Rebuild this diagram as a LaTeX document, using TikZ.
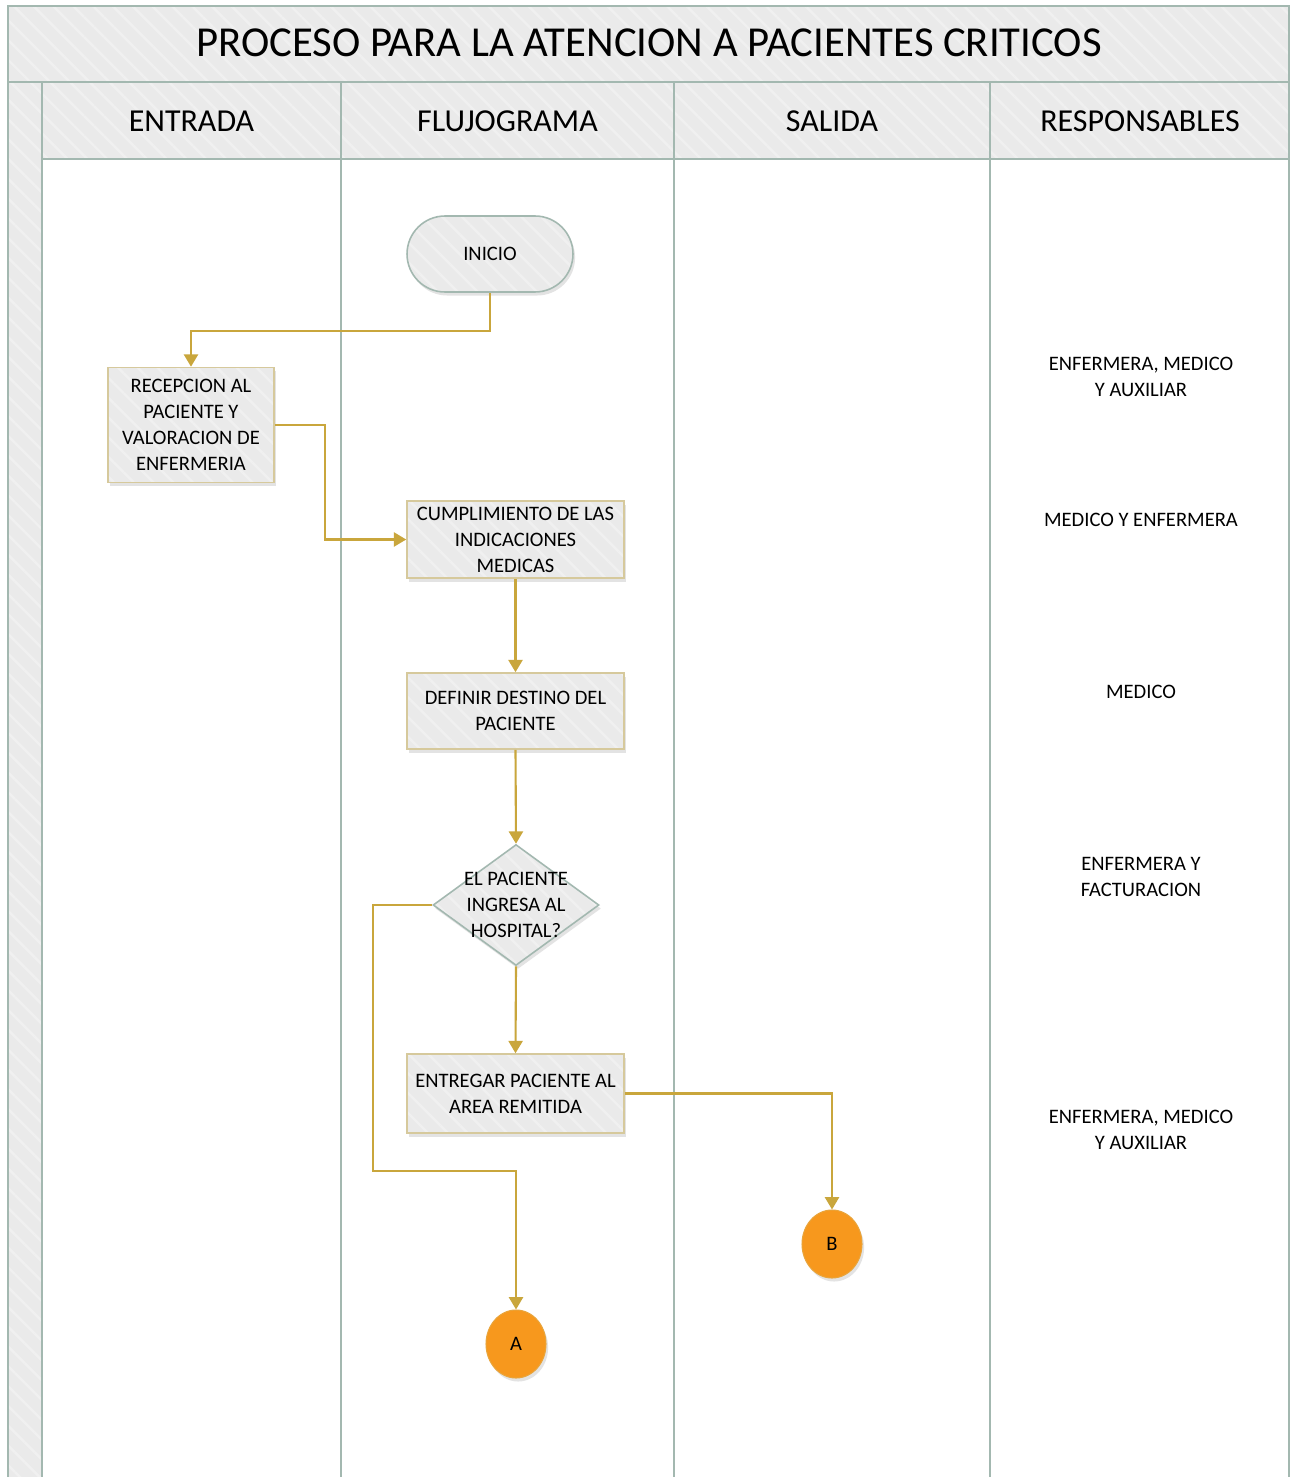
\documentclass[tikz,border=0pt]{standalone}
\usepackage{fontspec}
\setmainfont{Carlito}
\usetikzlibrary{
   arrows.meta,
   positioning,
   shapes.geometric,
   shadows,
   patterns.meta
}

\definecolor{laneline}{HTML}{A3B8B0}
\definecolor{lanefill}{HTML}{EAEAEA}
\definecolor{flowgold}{HTML}{C9A63C}
\definecolor{boxedge}{HTML}{D6C99C}
\definecolor{connorange}{HTML}{F7981D}
\definecolor{connedge}{HTML}{E9A43A}

\begin{document}
\begin{tikzpicture}[
    x=0.02cm, y=-0.02cm,
    every node/.style={font=\fontsize{11.7}{14.8}\selectfont, text=black},
    stripes/.style={preaction={fill=lanefill}, pattern={Lines[angle=-45,distance=0.28cm,line width=1.4pt]}, pattern color=white!30!lanefill},
    band/.style={stripes, draw=laneline, line width=1.4pt},
    hdr/.style={font=\fontsize{18.2}{22}\selectfont},
    shade/.style={drop shadow={opacity=0.22, shadow xshift=1.2pt, shadow yshift=-2pt}},
    proc/.style={rectangle, shade, stripes, draw=boxedge, line width=0.9pt, align=center, inner sep=1pt},
    terminal/.style={rectangle, rounded corners=0.76cm, shade, stripes, draw=laneline, line width=0.9pt, minimum width=3.32cm, minimum height=1.52cm},
    decision/.style={diamond, shade, stripes, draw=laneline, line width=0.9pt, minimum width=3.32cm, minimum height=2.42cm, inner sep=0pt},
    connector/.style={ellipse, shade, fill=connorange, draw=connedge, line width=0.6pt, minimum width=1.2cm, minimum height=1.36cm, inner sep=0pt},
    flow/.style={draw=flowgold, line width=1.2pt, -{Triangle[width=8pt,length=7pt]}},
    resp/.style={align=center}
]
\clip (0,0) rectangle (1294,1477);
\useasboundingbox (0,0) rectangle (1294,1477);

% pool and lanes
\fill[white] (0,0) rectangle (1294,1477);
\draw[band] (8,6) rectangle (1289,82);
\draw[band] (8,82) rectangle (42,1500);
\draw[band] (42,82) rectangle (341,159);
\draw[band] (341,82) rectangle (674,159);
\draw[band] (674,82) rectangle (990,159);
\draw[band] (990,82) rectangle (1289,159);
\foreach \lx in {341,674,990,1289}
  \draw[laneline, line width=1.4pt] (\lx,159) -- (\lx,1500);

% titles
\node[font=\fontsize{24.3}{29}\selectfont] (title) at (649,43) {PROCESO PARA LA ATENCION A PACIENTES CRITICOS};
\node[hdr] (hEntrada) at (191.5,121) {ENTRADA};
\node[hdr] (hFlujo) at (507.5,121) {FLUJOGRAMA};
\node[hdr] (hSalida) at (832,121) {SALIDA};
\node[hdr] (hResp) at (1140,121) {RESPONSABLES};

% flow chart
\node[terminal] (inicio) at (490,254) {INICIO};
\node[proc, minimum width=3.32cm, minimum height=2.3cm] (recepcion) at (191,425) {RECEPCION AL\\PACIENTE Y\\VALORACION DE\\ENFERMERIA};
\node[proc, minimum width=4.34cm, minimum height=1.54cm] (cumplimiento) at (515.5,539.5) {CUMPLIMIENTO DE LAS\\INDICACIONES\\MEDICAS};
\node[proc, minimum width=4.34cm, minimum height=1.52cm] (definir) at (515.5,711) {DEFINIR DESTINO DEL\\PACIENTE};
\node[decision] (ingresa) at (516,905) {};
\node[align=center] (ingresaTxt) at (ingresa) {EL PACIENTE\\INGRESA AL\\HOSPITAL?};
\node[proc, minimum width=4.34cm, minimum height=1.58cm] (entregar) at (515.5,1093.5) {ENTREGAR PACIENTE AL\\AREA REMITIDA};
\node[connector] (conB) at (832,1244) {B};
\node[connector] (conA) at (516,1344) {A};

% connectors
\draw[flow] (inicio.south) -- ++(0,38) -| (recepcion.north);
\draw[flow] (recepcion.east) -- ++(50,0) |- (cumplimiento.west);
\draw[flow] (cumplimiento.south) -- (definir.north);
\draw[flow] (definir.south) -- (ingresa.north);
\draw[flow] (ingresa.south) -- (entregar.north);
\draw[flow] (ingresa.west) -- ++(-59,0) -- ++(0,266) -| (conA.north);
\draw[flow] (entregar.east) -| (conB.north);

% responsables
\node[resp] (r1) at (1141,377) {ENFERMERA, MEDICO\\Y AUXILIAR};
\node[resp] (r2) at (1141,520) {MEDICO Y ENFERMERA};
\node[resp] (r3) at (1141,692) {MEDICO};
\node[resp] (r4) at (1141,877) {ENFERMERA Y\\FACTURACION};
\node[resp] (r5) at (1141,1130) {ENFERMERA, MEDICO\\Y AUXILIAR};

\end{tikzpicture}
\end{document}
